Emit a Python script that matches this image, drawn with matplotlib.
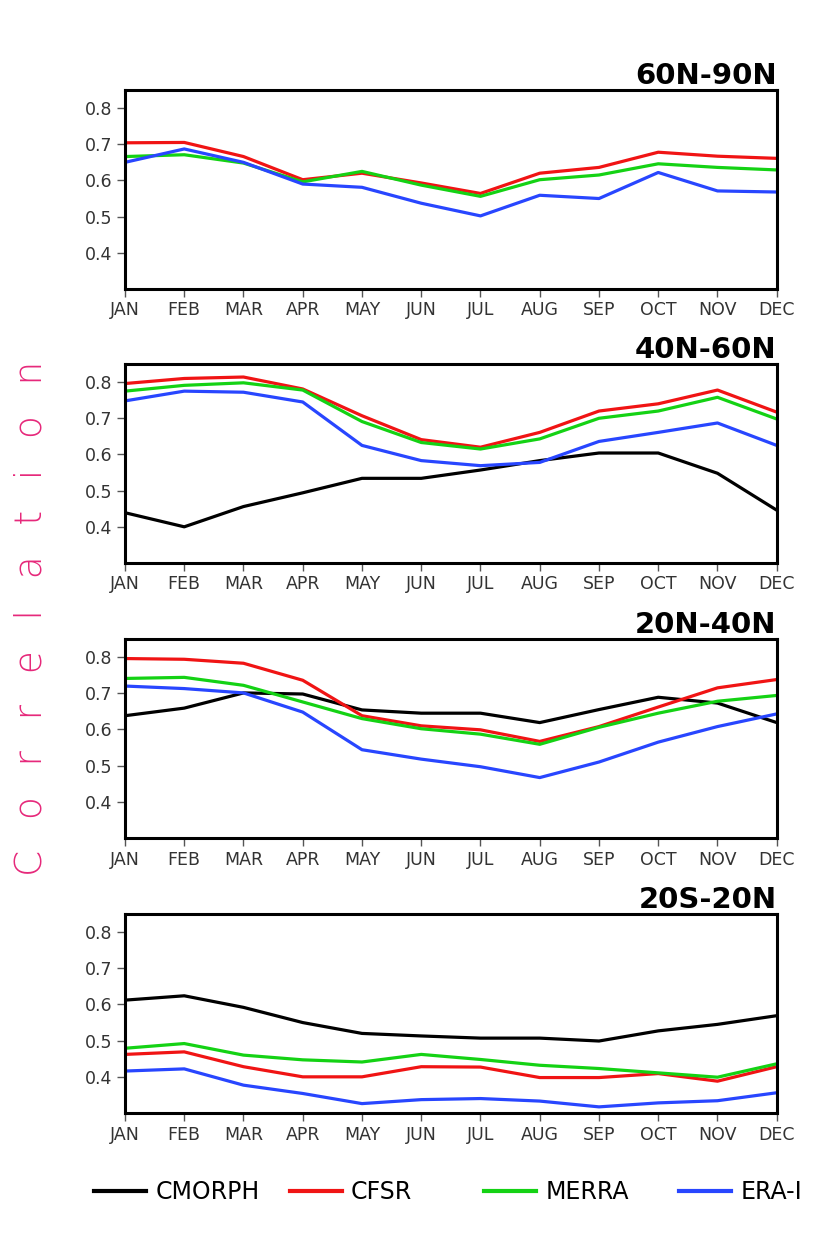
import numpy as np
import matplotlib.pyplot as plt
from matplotlib.lines import Line2D

months = ['JAN', 'FEB', 'MAR', 'APR', 'MAY', 'JUN',
          'JUL', 'AUG', 'SEP', 'OCT', 'NOV', 'DEC']
regions = ['60N-90N', '40N-60N', '20N-40N', '20S-20N']

# correlation per region (None = not plotted)
cmorph = {
    '60N-90N': None,
    '40N-60N': [0.439, 0.400, 0.456, 0.494, 0.534, 0.534, 0.557, 0.583, 0.604, 0.604, 0.548, 0.446],
    '20N-40N': [0.638, 0.659, 0.701, 0.698, 0.654, 0.645, 0.645, 0.619, 0.655, 0.689, 0.673, 0.619],
    '20S-20N': [0.612, 0.624, 0.592, 0.550, 0.520, 0.513, 0.507, 0.507, 0.499, 0.527, 0.545, 0.569],
}
cfsr = {
    '60N-90N': [0.704, 0.705, 0.666, 0.602, 0.620, 0.593, 0.564, 0.620, 0.636, 0.678, 0.667, 0.661],
    '40N-60N': [0.796, 0.810, 0.814, 0.781, 0.707, 0.641, 0.620, 0.661, 0.720, 0.740, 0.778, 0.717],
    '20N-40N': [0.796, 0.794, 0.783, 0.736, 0.638, 0.610, 0.599, 0.567, 0.608, 0.662, 0.715, 0.738],
    '20S-20N': [0.462, 0.469, 0.428, 0.400, 0.400, 0.428, 0.427, 0.398, 0.398, 0.409, 0.388, 0.428],
}
merra = {
    '60N-90N': [0.666, 0.671, 0.648, 0.596, 0.625, 0.587, 0.556, 0.602, 0.615, 0.646, 0.636, 0.629],
    '40N-60N': [0.775, 0.791, 0.798, 0.778, 0.691, 0.633, 0.615, 0.643, 0.700, 0.720, 0.758, 0.698],
    '20N-40N': [0.741, 0.744, 0.722, 0.676, 0.630, 0.602, 0.587, 0.559, 0.606, 0.645, 0.678, 0.694],
    '20S-20N': [0.479, 0.492, 0.460, 0.447, 0.441, 0.462, 0.448, 0.432, 0.423, 0.411, 0.399, 0.436],
}
erai = {
    '60N-90N': [0.650, 0.687, 0.650, 0.590, 0.581, 0.537, 0.502, 0.559, 0.550, 0.622, 0.571, 0.568],
    '40N-60N': [0.748, 0.775, 0.772, 0.745, 0.625, 0.583, 0.569, 0.578, 0.636, 0.661, 0.687, 0.625],
    '20N-40N': [0.720, 0.713, 0.701, 0.648, 0.544, 0.518, 0.497, 0.467, 0.510, 0.565, 0.608, 0.643],
    '20S-20N': [0.416, 0.422, 0.377, 0.354, 0.326, 0.337, 0.340, 0.333, 0.317, 0.328, 0.334, 0.356],
}

series = [
    ('CMORPH', cmorph, '#000000'),
    ('CFSR', cfsr, '#f01414'),
    ('MERRA', merra, '#14d214'),
    ('ERA-I', erai, '#2846ff'),
]

fig = plt.figure(figsize=(8.25, 12.36), dpi=100)

left, width, height = 0.1515, 0.790, 0.161
bottoms = [0.7662, 0.5445, 0.322, 0.0995]
x = np.arange(len(months))

for region, bottom in zip(regions, bottoms):
    ax = fig.add_axes([left, bottom, width, height])
    for name, data, colour in series:
        if data[region] is None:
            continue
        ax.plot(x, data[region], color=colour, linewidth=2.3, label=name)
    ax.set_xlim(0, 11)
    ax.set_ylim(0.3, 0.85)
    ax.set_xticks(x)
    ax.set_xticklabels(months)
    ax.set_yticks([0.4, 0.5, 0.6, 0.7, 0.8])
    ax.tick_params(direction='out', length=6, width=1, color='#555555',
                   labelcolor='#333333', labelsize=12.5, pad=3)
    for sp in ax.spines.values():
        sp.set_linewidth(2.2)
    ax.set_title(region, loc='right', fontweight='bold', fontsize=21, pad=3)

ylab = ' \u2002'.join('Correlation')
fig.text(0.038, 0.50, ylab, rotation=90,
         color='#e6287a', fontsize=27, fontweight='light', ha='center', va='center')

# legend entries spaced evenly along the bottom
starts = [0.114, 0.351, 0.587, 0.823]
for (name, data, colour), xs in zip(series, starts):
    h = Line2D([], [], color=colour, linewidth=3)
    fig.legend([h], [name], loc='center left', bbox_to_anchor=(xs, 0.0355),
               frameon=False, fontsize=17, handlelength=2.2, handletextpad=0.4,
               borderaxespad=0, borderpad=0)

plt.savefig('out.png', dpi=100)
